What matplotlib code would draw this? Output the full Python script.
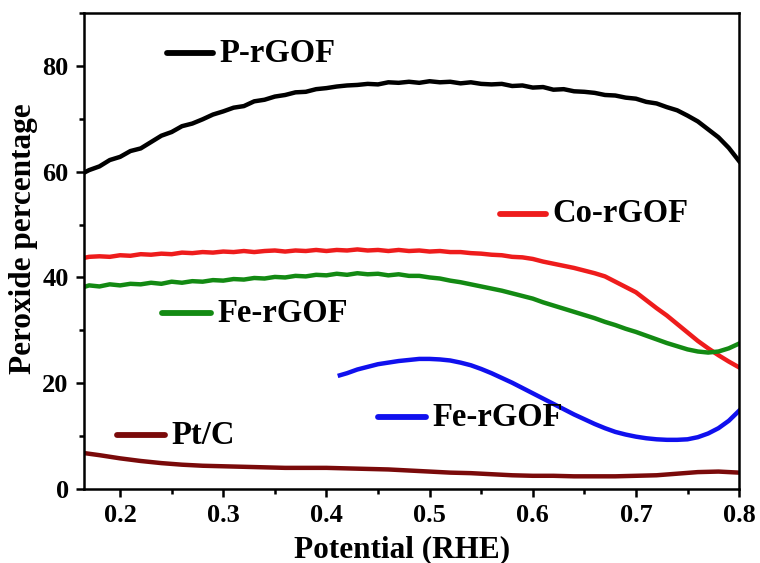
import matplotlib
matplotlib.use("Agg")
import matplotlib.pyplot as plt
from matplotlib.ticker import MultipleLocator

plt.rcParams['font.family'] = ['Liberation Serif', 'DejaVu Serif']
plt.rcParams['font.weight'] = 'bold'

# potential grid (V vs RHE)
pot = [0.165, 0.17, 0.18, 0.19, 0.20, 0.21, 0.22, 0.23, 0.24, 0.25, 0.26, 0.27,
       0.28, 0.29, 0.30, 0.31, 0.32, 0.33, 0.34, 0.35, 0.36, 0.37, 0.38, 0.39,
       0.40, 0.41, 0.42, 0.43, 0.44, 0.45, 0.46, 0.47, 0.48, 0.49, 0.50, 0.51,
       0.52, 0.53, 0.54, 0.55, 0.56, 0.57, 0.58, 0.59, 0.60, 0.61, 0.62, 0.63,
       0.64, 0.65, 0.66, 0.67, 0.68, 0.69, 0.70, 0.71, 0.72, 0.73, 0.74, 0.75,
       0.76, 0.77, 0.78, 0.79, 0.80]

p_rgof = [59.8, 60.3, 61.0, 62.2, 62.8, 63.9, 64.4, 65.6, 66.8, 67.5, 68.6, 69.1,
          69.9, 70.8, 71.4, 72.1, 72.4, 73.3, 73.6, 74.2, 74.5, 75.0, 75.1, 75.6,
          75.8, 76.1, 76.3, 76.4, 76.6, 76.5, 76.9, 76.8, 77.0, 76.8, 77.1, 76.9,
          77.0, 76.7, 76.9, 76.6, 76.5, 76.6, 76.2, 76.3, 75.9, 76.0, 75.5, 75.6,
          75.2, 75.1, 74.9, 74.5, 74.4, 74.0, 73.8, 73.2, 72.9, 72.2, 71.6, 70.6,
          69.5, 68.0, 66.5, 64.5, 62.0]

co_rgof = [43.7, 43.9, 44.0, 43.9, 44.2, 44.1, 44.4, 44.3, 44.5, 44.4, 44.7, 44.6,
           44.8, 44.7, 44.9, 44.8, 45.0, 44.8, 45.0, 45.1, 44.9, 45.1, 45.0, 45.2,
           45.0, 45.2, 45.1, 45.3, 45.1, 45.2, 45.0, 45.2, 45.0, 45.1, 44.9, 45.0,
           44.8, 44.8, 44.6, 44.5, 44.3, 44.2, 43.9, 43.8, 43.5, 43.0, 42.6, 42.2,
           41.8, 41.3, 40.8, 40.2, 39.2, 38.2, 37.2, 35.7, 34.2, 32.8, 31.2, 29.6,
           28.0, 26.6, 25.3, 24.1, 23.0]

fe_rgof_green = [38.2, 38.5, 38.3, 38.7, 38.5, 38.8, 38.7, 39.0, 38.8, 39.2, 39.0, 39.3,
                 39.2, 39.5, 39.4, 39.7, 39.6, 39.9, 39.8, 40.1, 40.0, 40.3, 40.2, 40.5,
                 40.4, 40.7, 40.5, 40.8, 40.6, 40.7, 40.4, 40.6, 40.3, 40.3, 40.0, 39.8,
                 39.4, 39.1, 38.7, 38.3, 37.9, 37.5, 37.0, 36.5, 36.0, 35.3, 34.7, 34.1,
                 33.5, 32.9, 32.3, 31.6, 31.0, 30.3, 29.7, 29.0, 28.3, 27.6, 27.0, 26.4,
                 26.0, 25.8, 26.0, 26.6, 27.5]

pot_blue = [0.413, 0.42, 0.43, 0.44, 0.45, 0.46, 0.47, 0.48, 0.49, 0.50, 0.51, 0.52,
            0.53, 0.54, 0.55, 0.56, 0.57, 0.58, 0.59, 0.60, 0.61, 0.62, 0.63, 0.64,
            0.65, 0.66, 0.67, 0.68, 0.69, 0.70, 0.71, 0.72, 0.73, 0.74, 0.75, 0.76,
            0.77, 0.78, 0.79, 0.80]
fe_rgof_blue = [21.5, 21.9, 22.6, 23.1, 23.6, 23.9, 24.2, 24.4, 24.6, 24.6, 24.5, 24.3,
                23.9, 23.4, 22.7, 21.9, 21.0, 20.1, 19.1, 18.1, 17.1, 16.1, 15.1, 14.1,
                13.2, 12.3, 11.5, 10.8, 10.3, 9.9, 9.6, 9.4, 9.3, 9.3, 9.4, 9.8,
                10.5, 11.5, 12.9, 14.8]

pot_pt = [0.165, 0.18, 0.20, 0.22, 0.24, 0.26, 0.28, 0.30, 0.32, 0.34, 0.36, 0.38,
          0.40, 0.42, 0.44, 0.46, 0.48, 0.50, 0.52, 0.54, 0.56, 0.58, 0.60, 0.62,
          0.64, 0.66, 0.68, 0.70, 0.72, 0.74, 0.76, 0.78, 0.80]
pt_c = [6.8, 6.4, 5.8, 5.3, 4.9, 4.6, 4.4, 4.3, 4.2, 4.1, 4.0, 4.0,
        4.0, 3.9, 3.8, 3.7, 3.5, 3.3, 3.1, 3.0, 2.8, 2.6, 2.5, 2.5,
        2.4, 2.4, 2.4, 2.5, 2.6, 2.9, 3.2, 3.3, 3.1]

# in-plot labels: (text, colour, segment x0, x1, y)
labels = [("P-rGOF", "black", 0.245, 0.290, 82.4),
          ("Co-rGOF", "#ee1c1c", 0.568, 0.613, 52.0),
          ("Fe-rGOF", "#138a13", 0.241, 0.288, 33.2),
          ("Pt/C", "#7a0a0a", 0.197, 0.244, 10.2),
          ("Fe-rGOF", "#1010ee", 0.450, 0.497, 13.6)]

fig = plt.figure(figsize=(7.6, 5.63), dpi=100)
ax = fig.add_axes([0.1105, 0.1314, 0.862, 0.8455])

lw = 3.2
ax.plot(pot, p_rgof, color="black", lw=lw)
ax.plot(pot, co_rgof, color="#ee1c1c", lw=lw)
ax.plot(pot, fe_rgof_green, color="#138a13", lw=lw)
ax.plot(pot_blue, fe_rgof_blue, color="#1010ee", lw=lw)
ax.plot(pot_pt, pt_c, color="#7a0a0a", lw=lw)

for txt, col, x0, x1, y in labels:
    ax.plot([x0, x1], [y, y], color=col, lw=4.2, solid_capstyle='round')
    ax.text(x1 + 0.006, y, txt, fontsize=23.5, fontweight='bold',
            va='center', ha='left')

ax.set_xlim(0.165, 0.8)
ax.set_ylim(0, 90)
ax.xaxis.set_major_locator(MultipleLocator(0.1))
ax.xaxis.set_minor_locator(MultipleLocator(0.05))
ax.yaxis.set_major_locator(MultipleLocator(20))
ax.yaxis.set_minor_locator(MultipleLocator(10))
ax.tick_params(which='both', direction='out', width=1.8, labelsize=19)
ax.tick_params(which='major', length=6, pad=5)
ax.tick_params(which='minor', length=3.5)
ax.tick_params(top=False, right=False)
for lab in ax.get_xticklabels() + ax.get_yticklabels():
    lab.set_fontweight('bold')
for s in ax.spines.values():
    s.set_linewidth(1.8)

ax.set_xlabel("Potential (RHE)", fontsize=22.5, fontweight='bold')
ax.set_ylabel("Peroxide percentage", fontsize=22.5, fontweight='bold')
ax.xaxis.set_label_coords(0.486, -0.096)
ax.yaxis.set_label_coords(-0.07, 0.525)

fig.savefig("out.png", dpi=100)
